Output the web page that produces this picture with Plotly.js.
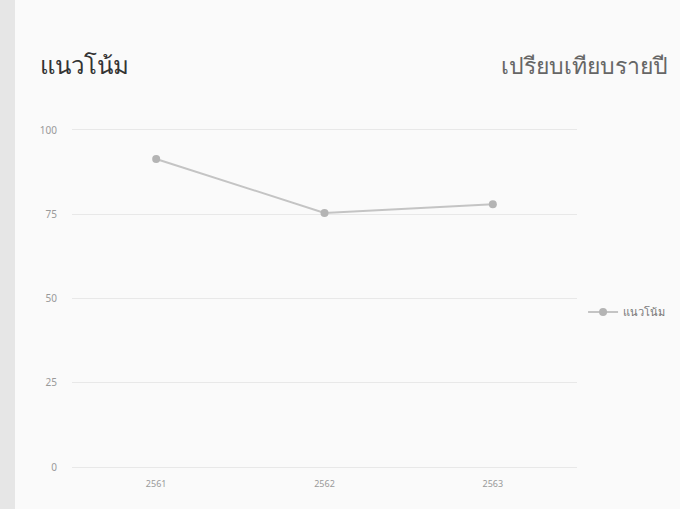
<!DOCTYPE html>
<html>
<head>
<meta charset="utf-8">
<script src="https://cdn.plot.ly/plotly-3.0.1.min.js"></script>
<style>
html,body{margin:0;padding:0;background:#fafafa;}
#chart{width:680px;height:509px;}
</style>
</head>
<body>
<div id="chart"></div>
<script>
const categories = ["2561", "2562", "2563"];
const values = [91.4, 75.4, 78.0];
const seriesName = "แนวโน้ม";
const titleLeft = "แนวโน้ม";
const titleRight = "เปรียบเทียบรายปี";
const yTicks = [0, 25, 50, 75, 100];

const trace = {
  x: categories,
  y: values,
  type: "scatter",
  mode: "lines+markers",
  name: seriesName,
  line: {color: "#c4c4c4", width: 2},
  marker: {color: "#b4b4b4", size: 8}
};

const layout = {
  width: 680,
  height: 509,
  paper_bgcolor: "#fafafa",
  plot_bgcolor: "#fafafa",
  font: {family: "Noto Sans, DejaVu Sans, sans-serif", color: "#888"},
  margin: {l: 72, r: 103, t: 130, b: 42, autoexpand: false},
  showlegend: true,
  legend: {
    x: 1.012, xanchor: "left", y: 0.46, yanchor: "middle",
    xref: "paper", yref: "paper",
    font: {size: 11, color: "#777"},
    bgcolor: "rgba(0,0,0,0)",
    itemwidth: 30
  },
  xaxis: {
    type: "category",
    range: [-0.5, 2.5],
    showgrid: false,
    zeroline: false,
    showline: true,
    mirror: true,
    linecolor: "#e8e8e8",
    linewidth: 1,
    ticks: "",
    tickfont: {size: 9, color: "#999"},
    ticklabelstandoff: 8,
    fixedrange: true
  },
  yaxis: {
    range: [0, 100],
    tickvals: yTicks,
    ticktext: yTicks.map(String),
    showgrid: true,
    gridcolor: "#e8e8e8",
    gridwidth: 1,
    zeroline: false,
    showline: false,
    ticks: "",
    tickfont: {size: 10, color: "#999"},
    ticklabelstandoff: 14,
    fixedrange: true
  },
  shapes: [
    {type: "rect", xref: "paper", yref: "paper", x0: -72/505, x1: -57/505, y0: -42/337, y1: 1 + 130/337,
     fillcolor: "#e6e6e6", line: {width: 0}, layer: "below"}
  ],
  annotations: [
    {text: titleLeft, xref: "paper", yref: "paper", x: -34/505, y: 1 + 65/337,
     xanchor: "left", yanchor: "middle", showarrow: false,
     font: {size: 24, color: "#333"}},
    {text: titleRight, xref: "paper", yref: "paper", x: 1 + 93/505, y: 1 + 65/337,
     xanchor: "right", yanchor: "middle", showarrow: false,
     font: {size: 23, color: "#666"}}
  ]
};

Plotly.newPlot("chart", [trace], layout, {displayModeBar: false, staticPlot: true});
</script>
</body>
</html>
